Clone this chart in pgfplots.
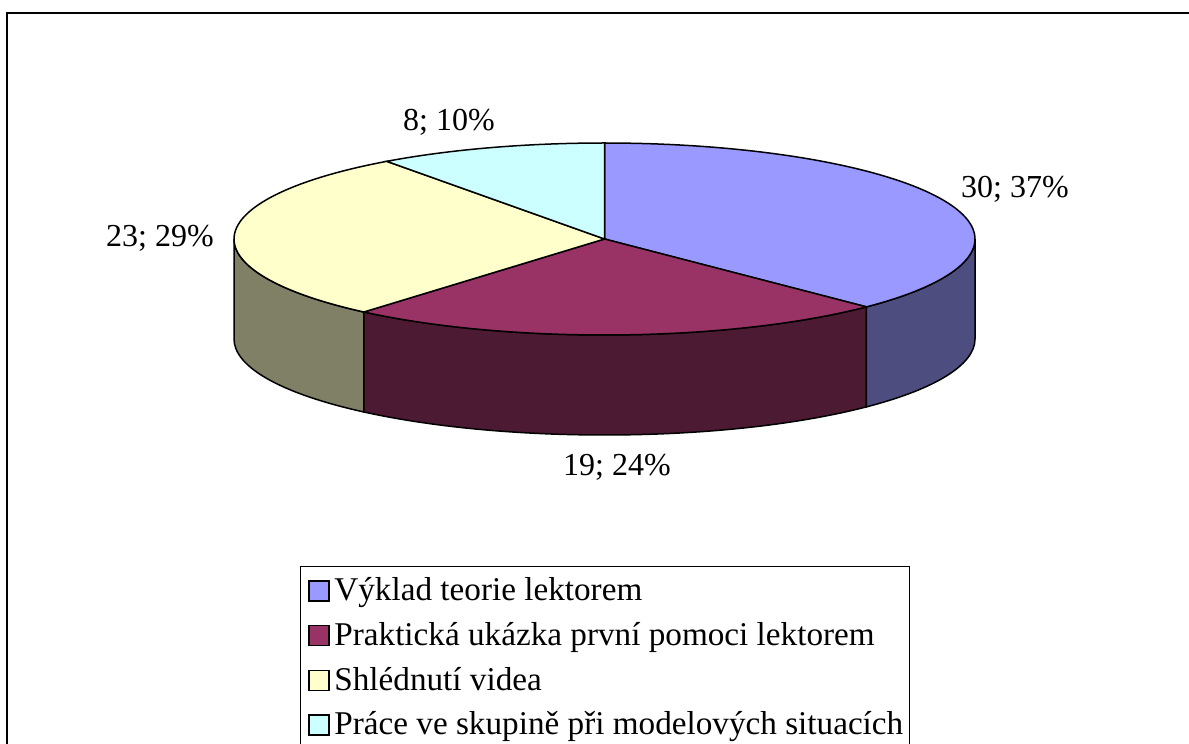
\documentclass[border=0pt]{standalone}
\usepackage{pgfplots}
\pgfplotsset{compat=1.18}
\usepackage{fontspec}
\setmainfont{Liberation Serif}
\definecolor{cblue}{HTML}{9999FF}
\definecolor{cbluesd}{HTML}{4D4D80}
\definecolor{cmaroon}{HTML}{993366}
\definecolor{cmaroonsd}{HTML}{4D1A33}
\definecolor{cyellow}{HTML}{FFFFCC}
\definecolor{cyellowsd}{HTML}{808066}
\definecolor{ccyan}{HTML}{CCFFFF}
% data
\def\vA{30}\def\vB{19}\def\vC{23}\def\vD{8}
\pgfmathsetmacro{\tot}{\vA+\vB+\vC+\vD}
\pgfmathsetmacro{\aO}{90}
\pgfmathsetmacro{\aA}{\aO-360*\vA/\tot}
\pgfmathsetmacro{\aB}{\aA-360*\vB/\tot}
\pgfmathsetmacro{\aC}{\aB-360*\vC/\tot}
\pgfmathsetmacro{\aD}{\aC-360*\vD/\tot}
% geometry (axis units = image pixels, 1 unit = 0.5pt)
\def\cx{604.5}\def\cy{505}\def\rx{370.5}\def\ry{96}
\begin{document}
\begin{tikzpicture}
\useasboundingbox (0,0) rectangle (594.5pt,372pt);
\clip (0,0) rectangle (594.5pt,372pt);
\begin{axis}[at={(0,0)}, anchor=south west, scale only axis,
  width=594.5pt, height=372pt, xmin=0, xmax=1189, ymin=0, ymax=744,
  hide axis, clip=false]
% sides
\addplot[fill=cyellowsd, draw=black, line width=0.75pt, domain=-180:\aB, samples=40, variable=\t]
  ({\cx+\rx*cos(t)},{\cy+\ry*sin(t)}) -- ++(0,-50pt) arc[start angle=\aB, end angle=-180, x radius=185.25pt, y radius=48pt] -- cycle;
\addplot[fill=cmaroonsd, draw=black, line width=0.75pt, domain=\aB:\aA, samples=60, variable=\t]
  ({\cx+\rx*cos(t)},{\cy+\ry*sin(t)}) -- ++(0,-50pt) arc[start angle=\aA, end angle=\aB, x radius=185.25pt, y radius=48pt] -- cycle;
\addplot[fill=cbluesd, draw=black, line width=0.75pt, domain=\aA:0, samples=40, variable=\t]
  ({\cx+\rx*cos(t)},{\cy+\ry*sin(t)}) -- ++(0,-50pt) arc[start angle=0, end angle=\aA, x radius=185.25pt, y radius=48pt] -- cycle;
% tops
\addplot[fill=cblue, draw=black, line width=0.75pt, domain=\aA:\aO, samples=80, variable=\t]
  ({\cx+\rx*cos(t)},{\cy+\ry*sin(t)}) -- (axis cs:\cx,\cy) -- cycle;
\addplot[fill=cmaroon, draw=black, line width=0.75pt, domain=\aB:\aA, samples=60, variable=\t]
  ({\cx+\rx*cos(t)},{\cy+\ry*sin(t)}) -- (axis cs:\cx,\cy) -- cycle;
\addplot[fill=cyellow, draw=black, line width=0.75pt, domain=\aC:\aB, samples=60, variable=\t]
  ({\cx+\rx*cos(t)},{\cy+\ry*sin(t)}) -- (axis cs:\cx,\cy) -- cycle;
\addplot[fill=ccyan, draw=black, line width=0.75pt, domain=\aD:\aC, samples=30, variable=\t]
  ({\cx+\rx*cos(t)},{\cy+\ry*sin(t)}) -- (axis cs:\cx,\cy) -- cycle;
% data labels
\node[font=\fontsize{16}{19}\selectfont] at (axis cs:1015,555) {30; 37\%};
\node[font=\fontsize{16}{19}\selectfont] at (axis cs:617,277) {19; 24\%};
\node[font=\fontsize{16}{19}\selectfont] at (axis cs:160,506) {23; 29\%};
\node[font=\fontsize{16}{19}\selectfont] at (axis cs:449,622) {8; 10\%};
% frame
\draw[line width=1pt] (axis cs:7,-20) -- (axis cs:7,730.5) -- (axis cs:1210,730.5);
% legend
\draw[line width=0.5pt] (axis cs:300,-20) -- (axis cs:300,177) -- (axis cs:909,177) -- (axis cs:909,-20);
\draw[fill=cblue, line width=0.6pt] (axis cs:309,143) rectangle (axis cs:329,163);
\node[anchor=base west, inner sep=0pt, font=\fontsize{16.6}{19}\selectfont] at (axis cs:334,143) {Výklad teorie lektorem};
\draw[fill=cmaroon, line width=0.6pt] (axis cs:309,98.5) rectangle (axis cs:329,118.5);
\node[anchor=base west, inner sep=0pt, font=\fontsize{16.6}{19}\selectfont] at (axis cs:334,98.5) {Praktická ukázka první pomoci lektorem};
\draw[fill=cyellow, line width=0.6pt] (axis cs:309,53.5) rectangle (axis cs:329,73.5);
\node[anchor=base west, inner sep=0pt, font=\fontsize{16.6}{19}\selectfont] at (axis cs:334,53.5) {Shlédnutí videa};
\draw[fill=ccyan, line width=0.6pt] (axis cs:309,9) rectangle (axis cs:329,29);
\node[anchor=base west, inner sep=0pt, font=\fontsize{16.6}{19}\selectfont] at (axis cs:334,9) {Práce ve skupině při modelových situacích};
\end{axis}
\end{tikzpicture}
\end{document}
